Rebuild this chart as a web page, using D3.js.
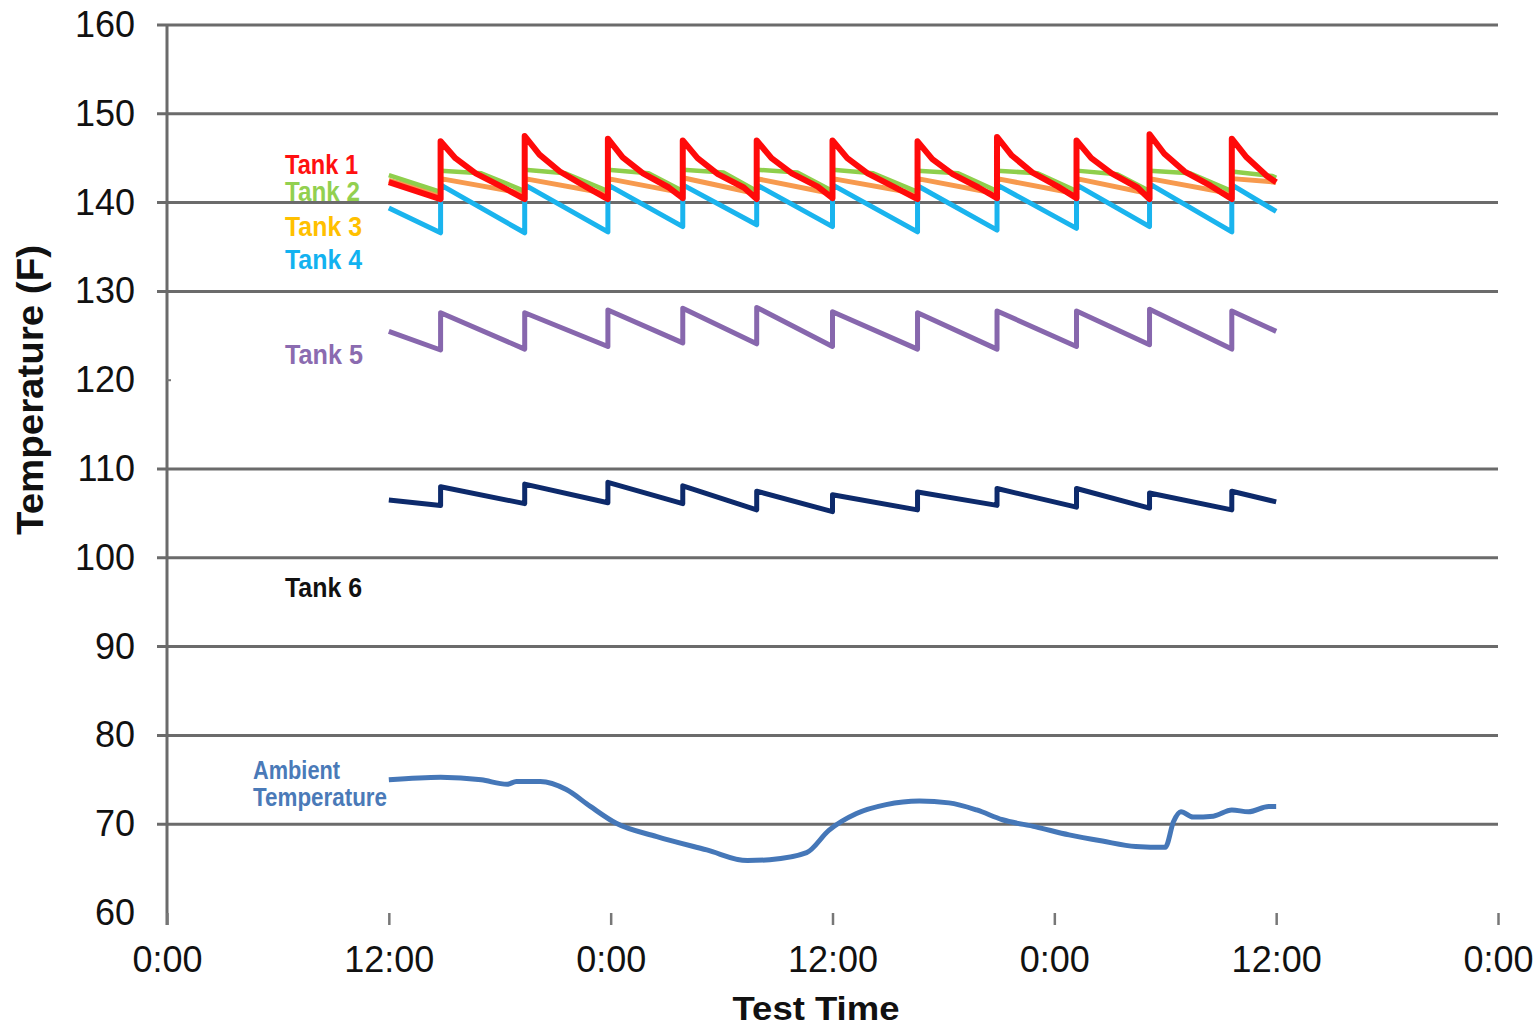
<!DOCTYPE html>
<html>
<head>
<meta charset="utf-8">
<script src="https://cdn.jsdelivr.net/npm/d3@7"></script>
<style>
  body { margin: 0; background: #fff; }
  text { font-family: "Liberation Sans", Arial, sans-serif; }
</style>
</head>
<body>
<div id="chart"></div>
<script>
// Test time in hours (0 = first 0:00 on the axis)
var startHour = 12;
var endHour = 60;
var jumpHours = [14.8, 19.35, 23.85, 27.9, 31.9, 36.0, 40.6, 44.9, 49.2, 53.15, 57.6];

// y-axis values
var yTicks = [60, 70, 80, 90, 100, 110, 120, 130, 140, 150, 160];
var yGrid = [70, 80, 90, 100, 110, 130, 140, 150, 160];   // no line at 120 in the original
var xTicks = [0, 12, 24, 36, 48, 60, 72];

// Tank 1 (red) - fast decay after each recovery
var tank1Start = 142.3, tank1End = 142.3;
var tank1Low = [140.4, 140.4, 140.4, 140.5, 140.4, 140.5, 140.4, 140.5, 140.5, 140.4, 140.4];
var tank1Peak = [146.9, 147.5, 147.2, 147.0, 147.0, 147.0, 146.9, 147.4, 147.0, 147.7, 147.2];
var tank1DecayHours = [0.8, 1.9, 3.3];
var tank1Decay = [
  [145.0, 143.3, 141.8], [145.4, 143.5, 141.8], [145.1, 143.3, 141.7], [145.0, 143.2, 141.7],
  [145.0, 143.3, 141.8], [145.0, 143.3, 141.8], [144.9, 143.2, 141.7], [145.3, 143.4, 141.8],
  [145.0, 143.3, 141.7], [145.5, 143.5, 141.9], [145.1, 143.0, 141.8]
];

// Tank 2 (green)
var tank2Start = 143.1, tank2End = 142.8;
var tank2Low = [141.2, 141.3, 141.3, 141.3, 141.3, 141.3, 141.2, 141.3, 141.3, 141.3, 141.3];
var tank2High = [143.6, 143.7, 143.7, 143.7, 143.7, 143.7, 143.6, 143.6, 143.6, 143.6, 143.5];
var tank2KneeHours = [2.2];
var tank2Knee = [[143.3], [143.3], [143.3], [143.4], [143.4], [143.3], [143.3], [143.3], [143.2], [143.3], [143.0]];

// Tank 3 (orange)
var tank3Start = 142.5, tank3End = 142.3;
var tank3Low = [141.0, 141.0, 141.0, 141.1, 141.0, 141.0, 141.0, 141.0, 141.0, 141.0, 141.0];
var tank3High = [142.7, 142.7, 142.7, 142.8, 142.7, 142.7, 142.7, 142.7, 142.7, 142.7, 142.7];

// Tank 4 (light blue)
var tank4Start = 139.4, tank4End = 139.0;
var tank4Low = [136.6, 136.6, 136.7, 137.3, 137.5, 137.3, 136.7, 136.9, 137.1, 137.3, 136.7];
var tank4High = [142.0, 142.0, 142.0, 142.0, 142.0, 142.0, 141.9, 142.0, 142.0, 142.1, 142.0];

// Tank 5 (purple)
var tank5Start = 125.5, tank5End = 125.5;
var tank5Low = [123.4, 123.5, 123.8, 124.2, 124.1, 123.8, 123.5, 123.5, 123.8, 124.0, 123.5];
var tank5High = [127.6, 127.6, 127.9, 128.1, 128.2, 127.7, 127.6, 127.8, 127.8, 128.0, 127.8];

// Tank 6 (navy)
var tank6Start = 106.5, tank6End = 106.3;
var tank6Low = [105.9, 106.1, 106.2, 106.1, 105.4, 105.2, 105.4, 105.9, 105.7, 105.6, 105.4];
var tank6High = [108.0, 108.3, 108.5, 108.1, 107.5, 107.1, 107.4, 107.8, 107.8, 107.3, 107.5];

// Ambient temperature
var ambientHours = [12.0, 14.8, 17.0, 18.4, 18.9, 20.2, 21.6, 22.9, 24.3, 26.5, 29.2, 31.4, 32.6, 34.6,
  35.8, 37.3, 38.9, 40.7, 42.3, 43.8, 45.2, 47.0, 48.8, 50.6, 52.4, 54.0, 54.45, 54.85, 55.5, 56.6,
  57.6, 58.5, 59.6, 60.0];
var ambientTemps = [75.0, 75.3, 75.0, 74.5, 74.8, 74.8, 73.9, 72.0, 70.1, 68.6, 67.1, 65.9, 66.0, 66.8,
  69.3, 71.2, 72.2, 72.6, 72.4, 71.6, 70.5, 69.7, 68.8, 68.1, 67.5, 67.4, 70.3, 71.4, 70.8, 70.9,
  71.6, 71.4, 72.0, 72.0];

// build a sawtooth series from start value, values before/after each jump, end value
function sawtooth(start, lows, highs, end, extraHours, extraVals) {
  var pts = [[startHour, start]];
  jumpHours.forEach(function (h, i) {
    pts.push([h, lows[i]]);
    pts.push([h, highs[i]]);
    if (extraHours) {
      extraHours.forEach(function (dh, k) {
        if (h + dh < endHour) pts.push([h + dh, extraVals[i][k]]);
      });
    }
  });
  pts.push([endHour, end]);
  return pts;
}

var series = [
  { name: "Tank 6", color: "#0d2a6b", width: 5, pts: sawtooth(tank6Start, tank6Low, tank6High, tank6End) },
  { name: "Tank 5", color: "#8767ad", width: 5, pts: sawtooth(tank5Start, tank5Low, tank5High, tank5End) },
  { name: "Tank 4", color: "#1ab4ee", width: 5, pts: sawtooth(tank4Start, tank4Low, tank4High, tank4End) },
  { name: "Tank 3", color: "#f79a4e", width: 5, pts: sawtooth(tank3Start, tank3Low, tank3High, tank3End) },
  { name: "Tank 2", color: "#8fcf4c", width: 4.5, pts: sawtooth(tank2Start, tank2Low, tank2High, tank2End, tank2KneeHours, tank2Knee) },
  { name: "Tank 1", color: "#ff0a0a", width: 6, pts: sawtooth(tank1Start, tank1Low, tank1Peak, tank1End, tank1DecayHours, tank1Decay) }
];

var ambient = ambientHours.map(function (h, i) { return [h, ambientTemps[i]]; });

// SVG setup
var svgWidth = 1540;
var svgHeight = 1029;
var margin = { top: 25, left: 167, right: 42, bottom: 116 };
var width = svgWidth - margin.left - margin.right;
var height = svgHeight - margin.top - margin.bottom;

var svg = d3.select("#chart")
  .append("svg")
  .attr("width", svgWidth)
  .attr("height", svgHeight);

var chartGroup = svg.append("g")
  .attr("transform", `translate(${margin.left}, ${margin.top})`);

var x = d3.scaleLinear().domain([0, 72]).range([0, width]);
var y = d3.scaleLinear().domain([60, 160]).range([height, 0]);

// gridlines
chartGroup.selectAll(".grid")
  .data(yGrid)
  .enter()
  .append("line")
  .attr("x1", -10)
  .attr("x2", width)
  .attr("y1", d => y(d))
  .attr("y2", d => y(d))
  .attr("stroke", "#6b6b6b")
  .attr("stroke-width", 3);

// y axis
var leftAxis = d3.axisLeft(y).tickValues(yTicks).tickSize(0).tickPadding(32);
var yAxisG = chartGroup.append("g").call(leftAxis);
yAxisG.select(".domain").remove();
yAxisG.selectAll("text")
  .attr("font-size", "36px")
  .attr("fill", "#111")
  .attr("font-family", "Liberation Sans, Arial, sans-serif");

chartGroup.append("line")
  .attr("x1", 0).attr("x2", 0)
  .attr("y1", 0).attr("y2", height + 12)
  .attr("stroke", "#6b6b6b")
  .attr("stroke-width", 3);

// small tick at 120
chartGroup.append("line")
  .attr("x1", 0).attr("x2", 4)
  .attr("y1", y(120)).attr("y2", y(120))
  .attr("stroke", "#777")
  .attr("stroke-width", 2);

// x axis
var bottomAxis = d3.axisBottom(x)
  .tickValues(xTicks)
  .tickSize(12)
  .tickFormat(d => (d % 24) + ":00");
var xAxisG = chartGroup.append("g")
  .attr("transform", `translate(0, ${height})`)
  .call(bottomAxis);
xAxisG.select(".domain").remove();
xAxisG.selectAll("line").attr("stroke", "#777").attr("stroke-width", 2.5);
xAxisG.selectAll("text")
  .attr("y", 46)
  .attr("dy", "0.35em")
  .attr("font-size", "36px")
  .attr("fill", "#111")
  .attr("font-family", "Liberation Sans, Arial, sans-serif");

// axis titles
svg.append("text")
  .attr("transform", "translate(43, 390) rotate(-90)")
  .attr("text-anchor", "middle")
  .attr("font-size", "36px")
  .attr("font-weight", "bold")
  .attr("fill", "#111")
  .attr("textLength", 290)
  .attr("lengthAdjust", "spacingAndGlyphs")
  .text("Temperature (F)");

svg.append("text")
  .attr("x", 816)
  .attr("y", 1020)
  .attr("text-anchor", "middle")
  .attr("font-size", "34px")
  .attr("font-weight", "bold")
  .attr("fill", "#111")
  .attr("textLength", 167)
  .attr("lengthAdjust", "spacingAndGlyphs")
  .text("Test Time");

// lines
var lineGen = d3.line()
  .x(d => x(d[0]))
  .y(d => y(d[1]));

chartGroup.selectAll(".tank")
  .data(series)
  .enter()
  .append("path")
  .attr("class", "tank")
  .attr("d", d => lineGen(d.pts))
  .attr("fill", "none")
  .attr("stroke", d => d.color)
  .attr("stroke-width", d => d.width)
  .attr("stroke-linejoin", "round");

chartGroup.append("path")
  .attr("d", lineGen.curve(d3.curveMonotoneX)(ambient))
  .attr("fill", "none")
  .attr("stroke", "#4577b8")
  .attr("stroke-width", 5);

// series labels
var labels = [
  { text: "Tank 1", color: "#ff1010", x: 285, y: 174, w: 73 },
  { text: "Tank 2", color: "#92d050", x: 285, y: 201, w: 75 },
  { text: "Tank 3", color: "#ffc000", x: 285, y: 236, w: 77 },
  { text: "Tank 4", color: "#12b2f0", x: 285, y: 269, w: 77 },
  { text: "Tank 5", color: "#8b6bb0", x: 285, y: 364, w: 78 },
  { text: "Tank 6", color: "#111111", x: 285, y: 597, w: 77 },
  { text: "Ambient", color: "#4a7ab8", x: 253, y: 779, w: 87, size: 25 },
  { text: "Temperature", color: "#4a7ab8", x: 253, y: 806, w: 134, size: 25 }
];

svg.selectAll(".lbl")
  .data(labels)
  .enter()
  .append("text")
  .attr("class", "lbl")
  .attr("x", d => d.x)
  .attr("y", d => d.y)
  .attr("fill", d => d.color)
  .attr("font-size", d => (d.size || 27) + "px")
  .attr("font-weight", "bold")
  .attr("textLength", d => d.w)
  .attr("lengthAdjust", "spacingAndGlyphs")
  .text(d => d.text);
</script>
</body>
</html>
